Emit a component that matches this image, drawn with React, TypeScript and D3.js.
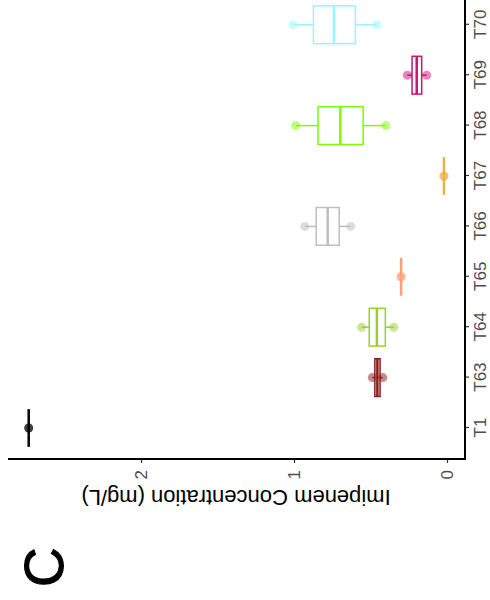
import React, { useEffect, useRef } from "react";
import * as d3 from "d3";

const categories = ["T1", "T63", "T64", "T65", "T66", "T67", "T68", "T69", "T70"];
const seriesValues: number[][] = [
  [2.734, 2.734, 2.734],
  [0.42, 0.455, 0.488],
  [0.348, 0.458, 0.558],
  [0.3, 0.3, 0.3],
  [0.629, 0.78, 0.93],
  [0.02, 0.02, 0.02],
  [0.399, 0.697, 0.989],
  [0.133, 0.198, 0.259],
  [0.458, 0.739, 1.007],
];
const colors = ["#000000", "#8B1A1A", "#9ACD32", "#FFA07A", "#BEBEBE", "#EBB046", "#7CFC00", "#CD1076", "#98F5FF"];
const valueTicks = [0, 1, 2];
const axisTitle = "Imipenem Concentration (mg/L)";
const panelLabel = "C";

export default function App() {
  const ref = useRef<SVGSVGElement>(null);
  useEffect(() => {
    const svg = d3.select(ref.current);
    svg.selectAll("*").remove();
    // chart drawn in its own upright 600x490 frame, then turned 90° counter-clockwise
    const g = svg.append("g").attr("transform", "translate(0,600) rotate(-90)");
    const font = "'Liberation Sans', Arial, sans-serif";
    const x = d3.scalePoint<string>().domain(categories).range([172, 575.2]);
    const y = d3.scaleLinear().domain([0, 1]).range([447, 294]);
    const bw = 0.75 * x.step();

    categories.forEach((c, i) => {
      const vals = seriesValues[i].slice().sort(d3.ascending);
      const q1 = d3.quantile(vals, 0.25)!;
      const med = d3.quantile(vals, 0.5)!;
      const q3 = d3.quantile(vals, 0.75)!;
      const mn = vals[0];
      const mx = vals[vals.length - 1];
      const cx = x(c)!;
      const col = colors[i];
      const bg = g.append("g");
      bg.append("line").attr("x1", cx).attr("x2", cx).attr("y1", y(mn)).attr("y2", y(q1))
        .attr("stroke", col).attr("stroke-width", 1.5);
      bg.append("line").attr("x1", cx).attr("x2", cx).attr("y1", y(q3)).attr("y2", y(mx))
        .attr("stroke", col).attr("stroke-width", 1.5);
      bg.append("rect").attr("x", cx - bw / 2).attr("width", bw)
        .attr("y", y(q3)).attr("height", Math.max(0, y(q1) - y(q3)))
        .attr("fill", "white").attr("stroke", col).attr("stroke-width", 1.5);
      bg.append("line").attr("x1", cx - bw / 2).attr("x2", cx + bw / 2)
        .attr("y1", y(med)).attr("y2", y(med))
        .attr("stroke", col).attr("stroke-width", 2.5);
      [mn, mx].forEach((v) => {
        bg.append("circle").attr("cx", cx).attr("cy", y(v)).attr("r", 4.5)
          .attr("fill", col).attr("fill-opacity", 0.5);
      });
    });

    // axes
    const yAxis = g.append("g").attr("transform", "translate(141,0)")
      .call(d3.axisLeft(y).tickValues(valueTicks).tickFormat(d3.format("d")).tickSize(4).tickPadding(7));
    yAxis.select(".domain").remove();
    yAxis.selectAll(".tick line").attr("stroke", "#333").attr("stroke-width", 1.2);
    yAxis.selectAll(".tick text").attr("fill", "#4D4D4D").style("font-family", font).style("font-size", "17px");

    const xAxis = g.append("g").attr("transform", "translate(0,465)")
      .call(d3.axisBottom(x).tickSize(4).tickPadding(5));
    xAxis.select(".domain").remove();
    xAxis.selectAll(".tick line").attr("stroke", "#333").attr("stroke-width", 1.2);
    xAxis.selectAll(".tick text").attr("fill", "#4D4D4D").style("font-family", font).style("font-size", "17px");

    g.append("line").attr("x1", 141).attr("x2", 141).attr("y1", 8).attr("y2", 466)
      .attr("stroke", "black").attr("stroke-width", 2);
    g.append("line").attr("x1", 140).attr("x2", 610).attr("y1", 465).attr("y2", 465)
      .attr("stroke", "black").attr("stroke-width", 2);

    g.append("text").attr("transform", "translate(103,236) rotate(-90)")
      .attr("text-anchor", "middle").attr("dominant-baseline", "central")
      .style("font-family", font).style("font-size", "22px").attr("fill", "black")
      .text(axisTitle);

    g.append("text").attr("x", 13).attr("y", 63)
      .style("font-family", font).style("font-size", "55px").style("font-weight", "normal")
      .attr("fill", "black").attr("stroke", "black").attr("stroke-width", 1)
      .text(panelLabel);
  }, []);
  return (
    <svg ref={ref} width={490} height={600}
      style={{ position: "absolute", left: 0, top: 0, background: "white" }} />
  );
}
